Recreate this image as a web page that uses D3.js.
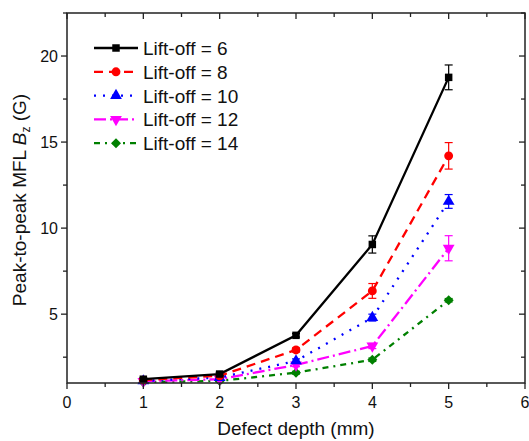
<!DOCTYPE html>
<html lang="en">
  <head>
    <meta charset="utf-8">
    <title>Peak-to-peak MFL vs defect depth</title>
    <script src="https://cdn.jsdelivr.net/npm/d3@7"></script>
    <style>
      body { margin: 0; background: white; }
      text { font-family: "Liberation Sans", Arial, sans-serif; fill: #111; }
    </style>
  </head>
  <body>
    <script>
      // values
      var depth = [1, 2, 3, 4, 5];
      var lift6  = [1.22, 1.52, 3.77, 9.05, 18.76];
      var lift8  = [1.17, 1.42, 2.92, 6.35, 14.2];
      var lift10 = [1.12, 1.32, 2.28, 4.8, 11.55];
      var lift12 = [1.1, 1.22, 2.05, 3.15, 8.83];
      var lift14 = [1.05, 1.12, 1.6, 2.35, 5.81];
      var err6  = [0.08, 0.1, 0.1, 0.5, 0.72];
      var err8  = [0.08, 0.1, 0.12, 0.43, 0.77];
      var err10 = [0.05, 0.05, 0.12, 0.2, 0.4];
      var err12 = [0.05, 0.05, 0.1, 0.15, 0.73];
      var err14 = [0.05, 0.05, 0.08, 0.1, 0.1];
      var seriesNames = ["Lift-off = 6", "Lift-off = 8", "Lift-off = 10", "Lift-off = 12", "Lift-off = 14"];
      var xTicks = [0, 1, 2, 3, 4, 5, 6];
      var yTicks = [5, 10, 15, 20];

      var width = 529, height = 441;
      var pLeft = 67, pRight = 525, pTop = 13, pBottom = 383;

      var svg = d3.select("body").append("svg")
                  .attr("width", width)
                  .attr("height", height);

      var x = d3.scaleLinear().domain([0, 6]).range([pLeft, pRight]);
      var y = d3.scaleLinear().domain([1, 22.5]).range([pBottom, pTop]);

      var styles = [
        {color: "#000000", dash: null,        shape: d3.symbolSquare,   size: 56, rot: 0},
        {color: "#ff0000", dash: "9,6",       shape: d3.symbolCircle,   size: 62, rot: 0},
        {color: "#0000ff", dash: "2,7",       shape: d3.symbolTriangle, size: 60, rot: 0},
        {color: "#ff00ff", dash: "12,4,2,4",  shape: d3.symbolTriangle, size: 60, rot: 180},
        {color: "#008000", dash: "6,5,2,5",   shape: d3.symbolSquare,   size: 50, rot: 45}
      ];

      var values = [lift6, lift8, lift10, lift12, lift14];
      var errs = [err6, err8, err10, err12, err14];

      var line = d3.line()
                   .x(function(d) { return x(d.x); })
                   .y(function(d) { return y(d.y); });

      // draw from back to front so Lift-off = 6 is on top
      for (var s = values.length - 1; s >= 0; s--) {
        var st = styles[s];
        var pts = depth.map(function(d, i) { return {x: d, y: values[s][i], e: errs[s][i]}; });
        var g = svg.append("g");

        g.append("path")
         .datum(pts)
         .attr("d", line)
         .attr("fill", "none")
         .attr("stroke", st.color)
         .attr("stroke-width", 2.3)
         .attr("stroke-dasharray", st.dash);

        // error bars
        var eb = g.selectAll(".err").data(pts).enter().append("g");
        eb.append("line")
          .attr("x1", function(d) { return x(d.x); })
          .attr("x2", function(d) { return x(d.x); })
          .attr("y1", function(d) { return y(d.y - d.e); })
          .attr("y2", function(d) { return y(d.y + d.e); })
          .attr("stroke", st.color).attr("stroke-width", 1.2);
        [-1, 1].forEach(function(sign) {
          eb.append("line")
            .attr("x1", function(d) { return x(d.x) - 4; })
            .attr("x2", function(d) { return x(d.x) + 4; })
            .attr("y1", function(d) { return y(d.y + sign * d.e); })
            .attr("y2", function(d) { return y(d.y + sign * d.e); })
            .attr("stroke", st.color).attr("stroke-width", 1.2);
        });

        g.selectAll(".pt").data(pts).enter().append("path")
         .attr("d", d3.symbol().type(st.shape).size(st.size))
         .attr("transform", function(d) {
           return "translate(" + x(d.x) + "," + y(d.y) + ") rotate(" + st.rot + ")";
         })
         .attr("fill", st.color);
      }

      // frame
      svg.append("rect")
         .attr("x", pLeft).attr("y", pTop)
         .attr("width", pRight - pLeft).attr("height", pBottom - pTop)
         .attr("fill", "none").attr("stroke", "#222").attr("stroke-width", 1.5);

      // ticks (all pointing the same way as Origin mirrored ticks)
      var xMinor = d3.range(0.5, 6, 1);
      var yMinor = [2.5, 7.5, 12.5, 17.5, 22.5];
      var tk = svg.append("g").attr("stroke", "#222").attr("stroke-width", 1.3);
      xTicks.forEach(function(v) {
        tk.append("line").attr("x1", x(v)).attr("x2", x(v)).attr("y1", pBottom).attr("y2", pBottom + 6);
        tk.append("line").attr("x1", x(v)).attr("x2", x(v)).attr("y1", pTop).attr("y2", pTop + 6);
      });
      xMinor.forEach(function(v) {
        tk.append("line").attr("x1", x(v)).attr("x2", x(v)).attr("y1", pBottom).attr("y2", pBottom + 4);
        tk.append("line").attr("x1", x(v)).attr("x2", x(v)).attr("y1", pTop).attr("y2", pTop + 4);
      });
      yTicks.forEach(function(v) {
        tk.append("line").attr("x1", pLeft - 6).attr("x2", pLeft).attr("y1", y(v)).attr("y2", y(v));
        tk.append("line").attr("x1", pRight - 6).attr("x2", pRight).attr("y1", y(v)).attr("y2", y(v));
      });
      yMinor.forEach(function(v) {
        tk.append("line").attr("x1", pLeft - 4).attr("x2", pLeft).attr("y1", y(v)).attr("y2", y(v));
        tk.append("line").attr("x1", pRight - 4).attr("x2", pRight).attr("y1", y(v)).attr("y2", y(v));
      });

      svg.append("g").selectAll("text").data(xTicks).enter().append("text")
         .attr("x", function(d) { return x(d); })
         .attr("y", pBottom + 25)
         .attr("text-anchor", "middle")
         .style("font-size", "16px")
         .text(function(d) { return d; });

      svg.append("g").selectAll("text").data(yTicks).enter().append("text")
         .attr("x", pLeft - 9)
         .attr("y", function(d) { return y(d) + 6; })
         .attr("text-anchor", "end")
         .style("font-size", "16px")
         .text(function(d) { return d; });

      svg.append("text")
         .attr("x", x(3))
         .attr("y", 435)
         .attr("text-anchor", "middle")
         .style("font-size", "19px")
         .text("Defect depth (mm)");

      var yl = svg.append("text")
         .attr("transform", "translate(26," + ((pTop + pBottom) / 2 + 2) + ") rotate(-90)")
         .attr("text-anchor", "middle")
         .style("font-size", "19px");
      yl.append("tspan").text("Peak-to-peak MFL ");
      yl.append("tspan").style("font-style", "italic").text("B");
      yl.append("tspan").attr("dy", 4).style("font-size", "12px").text("z");
      yl.append("tspan").attr("dy", -4).text(" (G)");

      // legend
      var lg = svg.append("g");
      seriesNames.forEach(function(name, i) {
        var st = styles[i];
        var ly = 48 + i * 23.8;
        lg.append("line")
          .attr("x1", 94).attr("x2", 138).attr("y1", ly).attr("y2", ly)
          .attr("stroke", st.color).attr("stroke-width", 2.3)
          .attr("stroke-dasharray", st.dash);
        lg.append("path")
          .attr("d", d3.symbol().type(st.shape).size(st.size))
          .attr("transform", "translate(116," + ly + ") rotate(" + st.rot + ")")
          .attr("fill", st.color);
        lg.append("text")
          .attr("x", 143).attr("y", ly + 7)
          .style("font-size", "19px")
          .text(name);
      });
    </script>
  </body>
</html>
